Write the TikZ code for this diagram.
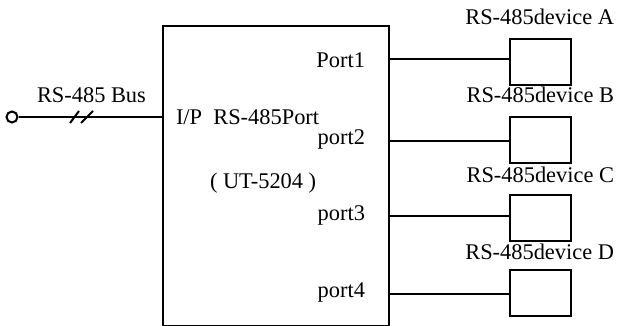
\documentclass[tikz,border=0pt]{standalone}
\usepackage{fontspec}
\setmainfont{Liberation Serif}
\usetikzlibrary{calc}

\tikzset{
  devbox/.style={draw, line width=1pt, minimum width=30.5pt, minimum height=23pt, inner sep=0pt},
  lbl/.style={inner sep=0pt, font=\fontsize{11.2}{13}\selectfont}
}

\begin{document}
\begin{tikzpicture}[x=0.5pt, y=-0.5pt, line width=1pt]
          \useasboundingbox (0,0) rectangle (620,326);

          % UT-5204 box
          \node[draw, line width=1pt, inner sep=0pt, minimum width=113pt, minimum height=150pt] (ut) at (276,176) {};
          \node[lbl, anchor=base west] (ip) at (175,125) {I/P\ \ RS-485Port};
          \node[lbl, anchor=base west] (model) at (209,188) {( UT-5204 )};

          \node[lbl, anchor=base east] (port1) at (366,68) {Port1};
          \node[lbl, anchor=base east] (port2) at (366,144) {port2};
          \node[lbl, anchor=base east] (port3) at (366,220) {port3};
          \node[lbl, anchor=base east] (port4) at (366,297) {port4};

          \coordinate (p1) at ($(ut.east)+(0,-117)$);
          \coordinate (p2) at ($(ut.east)+(0,-35)$);
          \coordinate (p3) at ($(ut.east)+(0,40)$);
          \coordinate (p4) at ($(ut.east)+(0,118)$);

          % bus
          \node[draw, circle, line width=1pt, minimum size=5.5pt, inner sep=0pt] (bus) at (12,117) {};
          \node[lbl, anchor=base west] (buslbl) at (36,103) {RS-485 Bus};
          \draw (bus) -- (bus -| ut.west);
          \draw (70,123) -- (79,111);
          \draw (81,123) -- (93,111);

          % devices
          \node[devbox] (devA) at (540.5,62) {};
          \node[devbox] (devB) at (540.5,140) {};
          \node[devbox] (devC) at (540.5,218) {};
          \node[devbox] (devD) at (540.5,293) {};

          \node[lbl, anchor=base east] (lblA) at (615,25) {RS-485device A};
          \node[lbl, anchor=base east] (lblB) at (615,103) {RS-485device B};
          \node[lbl, anchor=base east] (lblC) at (615,182) {RS-485device C};
          \node[lbl, anchor=base east] (lblD) at (615,259) {RS-485device D};

          \draw (p1) -- (p1 -| devA.west);
          \draw (p2) -- (p2 -| devB.west);
          \draw (p3) -- (p3 -| devC.west);
          \draw (p4) -- (p4 -| devD.west);

        \end{tikzpicture}
\end{document}
